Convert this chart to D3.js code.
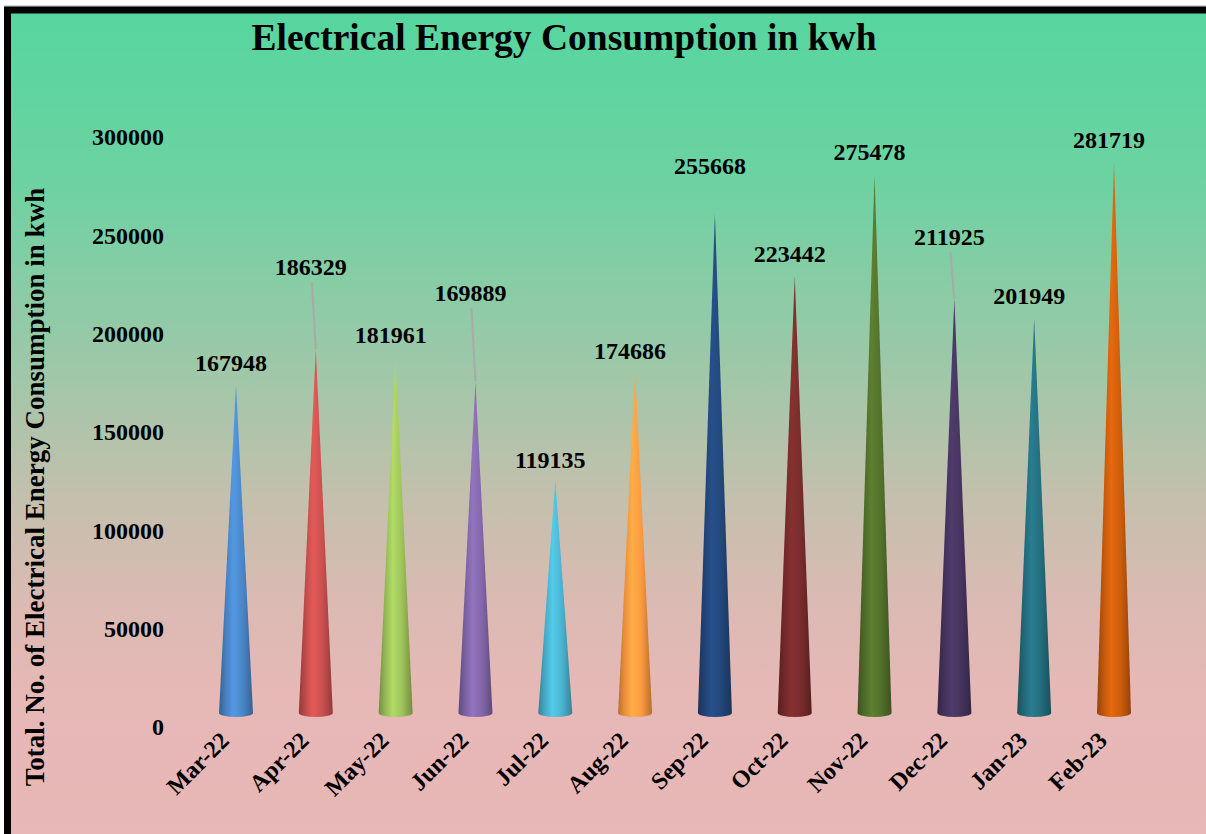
<!DOCTYPE html>
<html>
<head>
<meta charset="utf-8">
<script src="https://cdn.jsdelivr.net/npm/d3@7/dist/d3.min.js"></script>
<style>
html,body{margin:0;padding:0;background:#fff;}
svg{display:block;}
text{font-family:"Liberation Serif","Times New Roman",serif;font-weight:bold;fill:#000;}
</style>
</head>
<body>
<svg id="chart" width="1206" height="834"></svg>
<script>
const months = ["Mar-22","Apr-22","May-22","Jun-22","Jul-22","Aug-22","Sep-22","Oct-22","Nov-22","Dec-22","Jan-23","Feb-23"];
const consumption = [167948,186329,181961,169889,119135,174686,255668,223442,275478,211925,201949,281719];
const coneColors = ["#4A86C8","#C9504E","#9DC25A","#8266A9","#4AB3CF","#F9993F","#22477A","#772B2B","#52712B","#46345F","#236E7E","#CC5D0C"];
const yTicks = [0,50000,100000,150000,200000,250000,300000];
const labelLift = [22,82,22,88,20,21,48,22,23,62,22,23];

const W = 1206, H = 834;
const FONT = "'Liberation Serif','Times New Roman',serif";
const svg = d3.select("#chart");
const defs = svg.append("defs");

// background gradient
const bg = defs.append("linearGradient").attr("id","bg").attr("x1",0).attr("y1",0).attr("x2",0).attr("y2",1);
[[0,"#56D69F"],[0.2,"#6CD2A2"],[0.42,"#9CC8A8"],[0.58,"#C3C0AD"],[0.72,"#DCBAB3"],[0.82,"#E6B8B6"],[1,"#E8B7B7"]]
  .forEach(([o,c]) => bg.append("stop").attr("offset",o).attr("stop-color",c));
svg.append("rect").attr("x",8).attr("y",10).attr("width",W).attr("height",H).attr("fill","url(#bg)");
svg.append("line").attr("x1",4).attr("x2",W).attr("y1",6).attr("y2",6).attr("stroke","#aaa").attr("stroke-width",1);
svg.append("path").attr("d",`M7.5,${H} L7.5,10 L${W},10`).attr("fill","none").attr("stroke","#000").attr("stroke-width",7);

// scales
const x = d3.scalePoint().domain(months).range([236,1114]);
const y = d3.scaleLinear().domain([0,300000]).range([713,127]);
const yLab = d3.scaleLinear().domain([0,300000]).range([727,137]);

// title
svg.append("text").attr("x",564).attr("y",50).attr("text-anchor","middle")
  .style("font-size","37.5px").text("Electrical Energy Consumption in kwh");

// y axis (labels only)
const yAxis = d3.axisLeft(yLab).tickValues(yTicks).tickSize(0).tickPadding(0).tickFormat(d3.format("d"));
const gy = svg.append("g").attr("transform","translate(164,0)").call(yAxis);
gy.select(".domain").remove();
gy.selectAll("text").style("font-family",FONT)
  .style("font-weight","bold").style("font-size","24px").attr("dy","0.33em");

// y title
svg.append("text").attr("transform","translate(44,487) rotate(-90)").attr("text-anchor","middle")
  .style("font-size","27px").text("Total. No. of Electrical Energy Consumption in kwh");

// x axis labels
const xAxis = d3.axisBottom(x).tickSize(0).tickPadding(0);
const gx = svg.append("g").attr("transform","translate(-6,742)").call(xAxis);
gx.select(".domain").remove();
gx.selectAll("text").style("font-family",FONT)
  .style("font-weight","bold").style("font-size","24px")
  .attr("text-anchor","end").attr("dy","0").attr("dx","0")
  .attr("transform","rotate(-45)");

// cone gradients
coneColors.forEach((c,i) => {
  const g = defs.append("linearGradient").attr("id","cone"+i).attr("x1",0).attr("x2",1).attr("y1",0).attr("y2",0);
  const base = d3.color(c);
  g.append("stop").attr("offset",0).attr("stop-color",base.darker(0.9));
  g.append("stop").attr("offset",0.18).attr("stop-color",base.darker(0.2));
  g.append("stop").attr("offset",0.42).attr("stop-color",base.brighter(0.35));
  g.append("stop").attr("offset",0.7).attr("stop-color",base);
  g.append("stop").attr("offset",1).attr("stop-color",base.darker(0.9));
});

const rx = 17, ry = 4;
const cones = svg.append("g");
months.forEach((m,i) => {
  const cx = x(m), y0 = y(0), yt = y(consumption[i]);
  cones.append("path")
    .attr("d",`M${cx-rx},${y0} L${cx},${yt} L${cx+rx},${y0} A${rx},${ry} 0 0 1 ${cx-rx},${y0} Z`)
    .attr("fill",`url(#cone${i})`);
});

// value labels and leader lines
const labels = svg.append("g");
months.forEach((m,i) => {
  const cx = x(m), yt = y(consumption[i]);
  const ly = yt - labelLift[i];
  const lx = cx - 5;
  if (labelLift[i] > 50) {
    labels.append("line").attr("x1",lx+1).attr("y1",ly+15).attr("x2",cx).attr("y2",yt)
      .attr("stroke","#A9A9A9").attr("stroke-width",2);
  }
  labels.append("text").attr("x",lx).attr("y",ly).attr("dy","0.33em").attr("text-anchor","middle")
    .style("font-size","24px").text(consumption[i]);
});
</script>
</body>
</html>
